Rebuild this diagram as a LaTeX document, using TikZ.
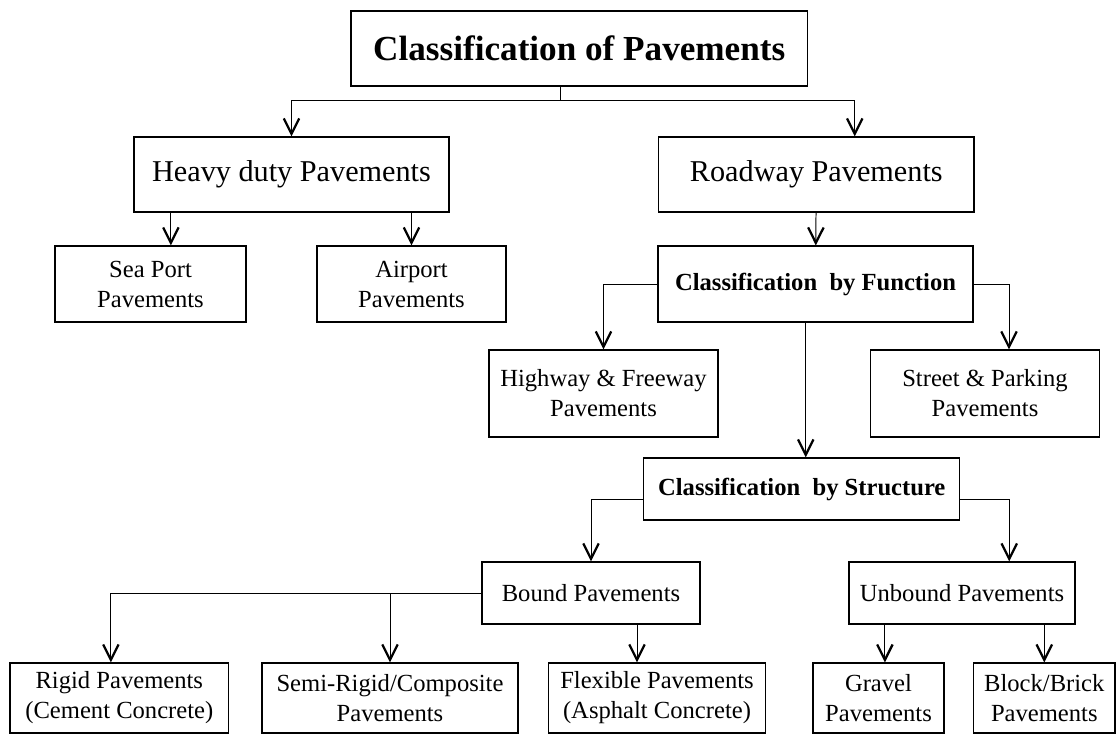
\documentclass[tikz,border=0pt]{standalone}
\usepackage{fontspec}
\setmainfont{Liberation Serif}
\usetikzlibrary{arrows.meta, positioning}

\begin{document}
\begin{tikzpicture}[x=0.025cm, y=-0.025cm,
    box/.style={draw, rectangle, line width=0.8pt, text centered, align=center, inner sep=0pt, font=\fontsize{17.5}{21.3}\selectfont},
    arrow/.style={line width=0.7pt, -{Straight Barb[length=11pt, width=11pt, line width=1.6pt]}},
    link/.style={line width=0.7pt}]

    \useasboundingbox (0,0) rectangle (1120,742);

    % Nodes for the title and the two main groups
    \node (title) [box, minimum width=11.41cm, minimum height=1.875cm, font=\fontsize{25}{30}\selectfont\bfseries] at (579.25,48.5) {Classification of Pavements};
    \node (heavy) [box, minimum width=7.875cm, minimum height=1.875cm, font=\fontsize{21.5}{25}\selectfont] at (291.5,174.5) {Heavy duty Pavements};
    \node (road) [box, minimum width=7.885cm, minimum height=1.875cm, font=\fontsize{21.5}{25}\selectfont] at (816.3,174.5) {Roadway Pavements};

    % Nodes below heavy duty
    \node (seaport) [box, minimum width=4.775cm, minimum height=1.9cm] at (150.5,284) {Sea Port\\Pavements};
    \node (airport) [box, minimum width=4.725cm, minimum height=1.9cm] at (411.5,284) {Airport\\Pavements};

    % Nodes for classification by function
    \node (function) [box, minimum width=7.875cm, minimum height=1.9cm, font=\fontsize{17.5}{21.3}\selectfont\bfseries] at (815.5,284) {Classification\enspace by Function};
    \node (highway) [box, minimum width=5.725cm, minimum height=2.175cm] at (603.5,393.5) {Highway \& Freeway\\Pavements};
    \node (street) [box, minimum width=5.725cm, minimum height=2.175cm] at (985,393.5) {Street \& Parking\\Pavements};

    % Nodes for classification by structure
    \node (structure) [box, minimum width=7.89cm, minimum height=1.55cm, font=\fontsize{17.5}{21.3}\selectfont\bfseries] at (801.75,489) {Classification\enspace by Structure};
    \node (bound) [box, minimum width=5.45cm, minimum height=1.55cm] at (591,593) {Bound Pavements};
    \node (unbound) [box, minimum width=5.65cm, minimum height=1.55cm] at (962,593) {Unbound Pavements};

    % Nodes on the bottom row
    \node (rigid) [box, minimum width=5.465cm, minimum height=1.75cm] at (119.3,698) {Rigid Pavements\\(Cement Concrete)};
    \node (semirigid) [box, minimum width=6.4cm, minimum height=1.75cm] at (390,698) {Semi-Rigid/Composite\\Pavements};
    \node (flexible) [box, minimum width=5.44cm, minimum height=1.75cm] at (657,698) {Flexible Pavements\\(Asphalt Concrete)};
    \node (gravel) [box, minimum width=3.275cm, minimum height=1.75cm] at (878.5,698) {Gravel\\Pavements};
    \node (block) [box, minimum width=3.535cm, minimum height=1.75cm] at (1044.3,698) {Block/Brick\\Pavements};

    % Draw arrows from the title
    \coordinate (split) at (560,100);
    \draw[link] (title.south -| split) -- (split);
    \draw[arrow] (split) -| (heavy.north);
    \draw[arrow] (split) -| ([xshift=0.96cm]road.north);

    % Draw arrows from heavy duty
    \draw[arrow] ([xshift=0.51cm]seaport.north |- heavy.south) -- ([xshift=0.51cm]seaport.north);
    \draw[arrow] (airport.north |- heavy.south) -- (airport.north);

    % Draw arrows for the roadway branch
    \draw[arrow] (road) -- (function);
    \draw[arrow] (function.west) -| (highway.north);
    \draw[arrow] (function.east) -| ([xshift=0.6cm]street.north);
    \draw[arrow] ([xshift=0.1cm]structure.north |- function.south) -- ([xshift=0.1cm]structure.north);
    \draw[arrow] ([yshift=-0.25cm]structure.west) -| (bound.north);
    \draw[arrow] ([yshift=-0.25cm]structure.east) -| ([xshift=1.18cm]unbound.north);

    % Draw arrows to the bottom row
    \draw[arrow] (bound.west) -| ([xshift=-0.21cm]rigid.north);
    \draw[arrow] (semirigid.north |- bound.west) -- (semirigid.north);
    \draw[arrow] ([xshift=-0.5cm]flexible.north |- bound.south) -- ([xshift=-0.5cm]flexible.north);
    \draw[arrow] ([xshift=0.16cm]gravel.north |- unbound.south) -- ([xshift=0.16cm]gravel.north);
    \draw[arrow] (block.north |- unbound.south) -- (block.north);

\end{tikzpicture}
\end{document}
